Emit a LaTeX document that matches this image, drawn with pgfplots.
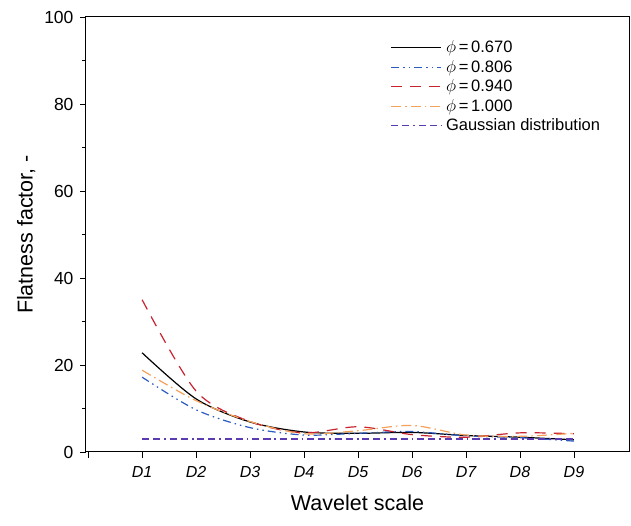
\documentclass[border=0pt]{standalone}
\usepackage{fontspec}
\setmainfont{Liberation Sans}
\usepackage{pgfplots}
\pgfplotsset{compat=1.18}
\definecolor{cblue}{HTML}{2A5CBF}
\definecolor{cred}{HTML}{C8232F}
\definecolor{corange}{HTML}{F4A25A}
\definecolor{cpurple}{HTML}{5A3CB0}
\begin{document}
\begin{tikzpicture}
\begin{axis}[
  scale only axis,
  width=543pt, height=435pt,
  xmin=-0.04, xmax=10.02,
  ymin=0, ymax=100,
  xtick={0,1,...,9},
  xticklabels={{},\textit{D}1,\textit{D}2,\textit{D}3,\textit{D}4,\textit{D}5,\textit{D}6,\textit{D}7,\textit{D}8,\textit{D}9},
  ytick={0,20,...,100},
  minor y tick num=1,
  tick align=outside,
  xtick pos=left, ytick pos=left,
  major tick length=6pt, minor tick length=4pt,
  tick style={black, line width=0.8pt},
  axis line style={line width=1pt},
  /pgf/number format/assume math mode=true,
  yticklabel style={font=\fontsize{17.5}{19}\selectfont, xshift=-3pt},
  xticklabel style={font=\fontsize{16}{18}\selectfont\itshape, yshift=-5pt},
  xlabel={Wavelet scale},
  ylabel={Flatness factor, -},
  label style={font=\fontsize{21.5}{23}\selectfont},
  xlabel style={yshift=-10pt},
  ylabel style={yshift=2pt},
  legend image code/.code={\draw[#1] (0pt,0pt) -- (50pt,0pt);},
  legend style={at={(rel axis cs:0.561,0.95)}, anchor=north west, draw=none, fill=none,
    font=\fontsize{16.5}{18}\selectfont, row sep=2pt, inner xsep=0pt, inner ysep=0pt,
    nodes={inner xsep=4pt}},
  legend cell align=left,
  every axis plot/.append style={line width=1.2pt, smooth, tension=0.5},
]
\addplot[black] coordinates {(1,22.8)(2,12.2)(3,6.9)(4,4.6)(5,4.3)(6,4.5)(7,3.8)(8,3.4)(9,2.8)};
\addlegendentry{$\phi$\,=\,0.670}
\addplot[cblue, dash pattern=on 8pt off 4pt on 1.5pt off 4pt on 1.5pt off 4pt] coordinates {(1,17.2)(2,9.7)(3,5.6)(4,3.9)(5,4.3)(6,4.7)(7,3.7)(8,3.3)(9,2.5)};
\addlegendentry{$\phi$\,=\,0.806}
\addplot[cred, dash pattern=on 11pt off 8pt] coordinates {(1,35.0)(2,14.0)(3,7.0)(4,4.4)(5,5.8)(6,4.0)(7,3.4)(8,4.4)(9,4.2)};
\addlegendentry{$\phi$\,=\,0.940}
\addplot[corange, dash pattern=on 10pt off 4pt on 1.5pt off 4pt] coordinates {(1,18.8)(2,11.8)(3,7.0)(4,4.2)(5,4.9)(6,6.1)(7,3.9)(8,3.6)(9,4.3)};
\addlegendentry{$\phi$\,=\,1.000}
\addplot[cpurple, dash pattern=on 7pt off 4pt on 7pt off 4pt on 1.5pt off 4pt] coordinates {(1,3)(2,3)(3,3)(4,3)(5,3)(6,3)(7,3)(8,3)(9,3)};
\addlegendentry{Gaussian distribution}
\end{axis}
\pgfresetboundingbox
\useasboundingbox (-86pt,-74pt) rectangle (545pt,452pt);
\end{tikzpicture}
\end{document}
